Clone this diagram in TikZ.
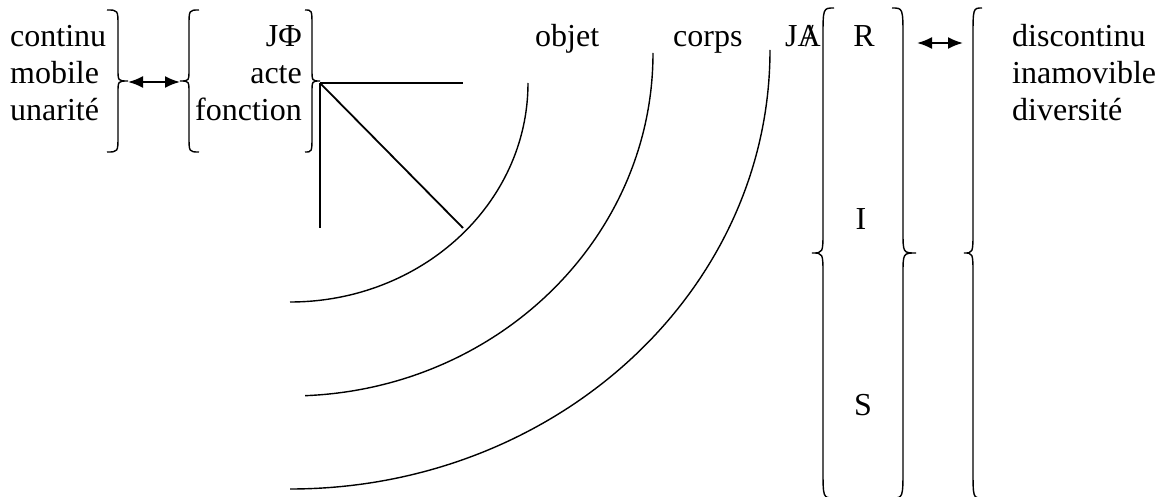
\documentclass[tikz,border=0pt]{standalone}
\usepackage{fontspec}
\setmainfont{Liberation Serif}
\usetikzlibrary{arrows.meta}

% brace: end x, stem x, tip x, top y, bottom y, end radius, cusp radius (y measured downwards)
\newcommand\BrDraw[7]{%
  \pgfmathsetmacro\bym{(#4+#5)/2}%
  \draw[brc] (#1,-#4) .. controls (#2,-#4) .. (#2,-#4-#6)
    -- (#2,-\bym+#7) .. controls (#2,-\bym) .. (#3,-\bym)
    .. controls (#2,-\bym) .. (#2,-\bym-#7)
    -- (#2,-#5+#6) .. controls (#2,-#5) .. (#1,-#5);}

\tikzset{
  txt/.style={inner sep=0pt, font=\fontsize{32}{37}\selectfont},
  brc/.style={line width=1.4pt},
  arc/.style={line width=1.4pt},
  stroke/.style={line width=1.8pt},
  dbl/.style={line width=2pt, {Latex[length=15pt,width=12pt]}-{Latex[length=15pt,width=12pt]}}
}

\begin{document}
\begin{tikzpicture}[x=1pt,y=1pt]
\useasboundingbox (0,0) rectangle (1163,-497);

% left word column
\node[txt, anchor=base west] (continu) at (10,-47) {continu};
\node[txt, anchor=base west] (mobile) at (10,-84) {mobile};
\node[txt, anchor=base west] (unarite) at (10,-121) {unarité};

% small braces
\BrDraw{107}{118}{128}{10}{152}{16}{12}
\BrDraw{199}{189}{180}{10}{152}{16}{12}
\BrDraw{305}{312}{320}{10}{152}{16}{12}
\coordinate (tipA) at (128,-82);
\coordinate (tipB) at (180,-82);
\draw[dbl] (tipA) -- (tipB);

% middle word column
\node[txt, anchor=base east] (jphi) at (302,-47) {JΦ};
\node[txt, anchor=base east] (acte) at (302,-84) {acte};
\node[txt, anchor=base east] (fonction) at (302,-121) {fonction};

% angle from the brace tip
\coordinate (apex) at (320,-83);
\coordinate (hend) at (463,-83);
\coordinate (vend) at (320,-228);
\coordinate (dend) at (463,-228);
\draw[stroke] (apex) -- (hend);
\draw[stroke] (apex) -- (vend);
\draw[stroke] (apex) -- (dend);

% concentric arcs
\draw[arc] (528,-83) arc[start angle=0, end angle=-90, x radius=238, y radius=219];
\draw[arc] (653,-53) arc[start angle=0, end angle=-87.6, x radius=363, y radius=343];
\draw[arc] (770,-50) arc[start angle=0, end angle=-90, x radius=480, y radius=439];

% labels above the arcs
\node[txt, anchor=base west] (objet) at (535,-47) {objet};
\node[txt, anchor=base west] (corps) at (673,-47) {corps};
\node[txt, anchor=base west] (ja) at (785,-47) {J\ooalign{A\cr\hidewidth/\hidewidth}};

% tall braces
\BrDraw{834}{823}{812}{8}{498}{30}{22}
\BrDraw{892}{903}{916}{8}{498}{30}{22}
\BrDraw{982}{973}{964}{8}{498}{30}{22}

\node[txt, anchor=base] (R) at (864,-47) {R};
\node[txt, anchor=base] (I) at (861,-230) {I};
\node[txt, anchor=base] (S) at (863,-415) {S};

\coordinate (tipC) at (917,-43);
\coordinate (tipD) at (963,-43);
\draw[dbl] (tipC) -- (tipD);

% right word column
\node[txt, anchor=base west] (discontinu) at (1012,-47) {discontinu};
\node[txt, anchor=base west] (inamovible) at (1012,-84) {inamovible};
\node[txt, anchor=base west] (diversite) at (1012,-121) {diversité};
\end{tikzpicture}
\end{document}
